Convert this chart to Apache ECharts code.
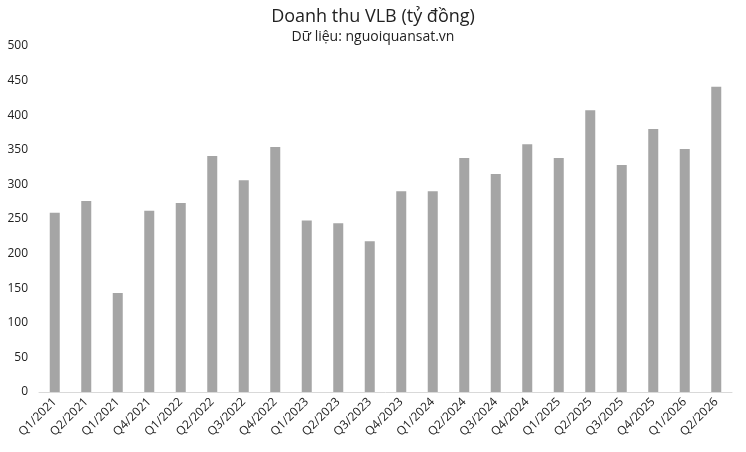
<!DOCTYPE html>
<html><head><meta charset="utf-8">
<script src="https://cdn.jsdelivr.net/npm/echarts@6/dist/echarts.min.js"></script>
<style>html,body{margin:0;padding:0;background:#fff}#c{width:746px;height:452px}</style>
</head><body><div id="c"></div>
<script>
const categories = ["Q1/2021","Q2/2021","Q1/2021","Q4/2021","Q1/2022","Q2/2022","Q3/2022","Q4/2022","Q1/2023","Q2/2023","Q3/2023","Q4/2023","Q1/2024","Q2/2024","Q3/2024","Q4/2024","Q1/2025","Q2/2025","Q3/2025","Q4/2025","Q1/2026","Q2/2026"];
const revenue = [259,276,143,262,273,341,306,354,248,244,218,290,290,338,315,358,338,407,328,380,351,441];
const yTicks = {min:0,max:500,interval:50};

const chart = echarts.init(document.getElementById('c'));
chart.setOption({
  animation:false,
  backgroundColor:'#fff',
  title:{
    text:'Doanh thu VLB (tỷ đồng)',
    subtext:'Dữ liệu: nguoiquansat.vn',
    left:'center', top:3, itemGap:4,
    textStyle:{fontFamily:'Open Sans',fontSize:18,fontWeight:'normal',color:'#222'},
    subtextStyle:{fontFamily:'Open Sans',fontSize:14,color:'#222'}
  },
  grid:{left:39,right:14,top:46,bottom:60,containLabel:false},
  xAxis:{
    type:'category',data:categories,
    axisLine:{lineStyle:{color:'#d9d9d9',width:1}},
    axisTick:{show:false},
    axisLabel:{rotate:45,interval:0,fontFamily:'Open Sans',fontSize:12,color:'#222',margin:8}
  },
  yAxis:{
    type:'value',min:yTicks.min,max:yTicks.max,interval:yTicks.interval,
    axisLine:{show:false},axisTick:{show:false},splitLine:{show:false},
    axisLabel:{fontFamily:'Open Sans',fontSize:12,color:'#222',margin:11}
  },
  series:[{type:'bar',data:revenue,barWidth:10,itemStyle:{color:'#a5a5a5'}}]
});
</script></body></html>
